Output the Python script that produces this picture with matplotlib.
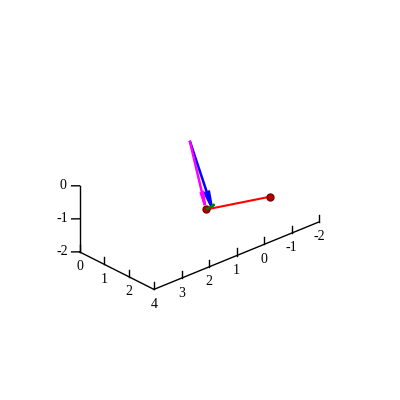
import matplotlib.pyplot as plt
from mpl_toolkits.mplot3d import proj3d

plt.rcParams['font.family'] = ['Liberation Serif', 'DejaVu Serif']

# vectors drawn from the origin
origin = [0, 0, 0]
blue_end = [1.0, 0.1, -1.6]
magenta_end = [1.0, 0.35, -1.45]

# red segment between two points
red_x = [1.0, 1.0]
red_y = [0.3, -2.0]
red_z = [-1.6, -2.0]

# small green vector at the first red point
green_start = [1.0, 0.3, -1.6]
green_vec = [0.0, -0.3, 0.05]

x_ticks = [0, 1, 2]
y_ticks = [4, 3, 2, 1, 0, -1, -2]
z_ticks = [-2, -1, 0]

fig = plt.figure(figsize=(4, 4), dpi=100)
ax = fig.add_axes([-0.015, -0.023, 1, 1], projection='3d')
ax.set_proj_type('ortho')
ax.view_init(elev=27, azim=-42)
ax.set_xlim(0, 3)
ax.set_ylim(4, -2)
ax.set_zlim(-2, 0)
ax.set_box_aspect((3, 6, 2), zoom=0.63)
ax.set_axis_off()

# hand drawn axes (only the front edges are shown)
k = dict(color='black', lw=1)
ax.plot([0, 3], [4, 4], [-2, -2], **k)
ax.plot([3, 3], [4, -2], [-2, -2], **k)
ax.plot([0, 0], [4, 4], [-2, 0], **k)
labels = []
for t in x_ticks:
    ax.plot([t, t], [4, 4], [-2, -1.78], **k)
    labels.append((t, 4, -2.45, str(t)))
for t in y_ticks:
    ax.plot([3, 3], [t, t], [-2, -1.78], **k)
    labels.append((3, t, -2.45, str(t)))
for t in z_ticks:
    ax.plot([0, -0.14], [4, 4.16], [t, t], **k)
    labels.append((-0.3, 4.34, t, str(t)))

ax.quiver(origin[0], origin[1], origin[2],
          blue_end[0] - origin[0], blue_end[1] - origin[1], blue_end[2] - origin[2],
          color='blue', lw=1.8, arrow_length_ratio=0.25)
ax.quiver(origin[0], origin[1], origin[2],
          magenta_end[0] - origin[0], magenta_end[1] - origin[1], magenta_end[2] - origin[2],
          color='magenta', lw=1.8, arrow_length_ratio=0.22)
ax.plot(red_x, red_y, red_z, color='red', lw=1.5,
        marker='o', markersize=5, markerfacecolor='#b00000', markeredgecolor='#800000')
ax.quiver(green_start[0], green_start[1], green_start[2],
          green_vec[0], green_vec[1], green_vec[2],
          color='green', lw=1.5, arrow_length_ratio=0.3)

# place tick labels as 2D figure text at their projected positions
fig.canvas.draw()
M = ax.get_proj()
for x, y, z, s in labels:
    px, py, _ = proj3d.proj_transform(x, y, z, M)
    dx, dy = ax.transData.transform((px, py))
    fx, fy = fig.transFigure.inverted().transform((dx, dy))
    fig.text(fx, fy, s, ha='center', va='center', fontsize=10)

fig.savefig('out.png', dpi=100, facecolor='white')
